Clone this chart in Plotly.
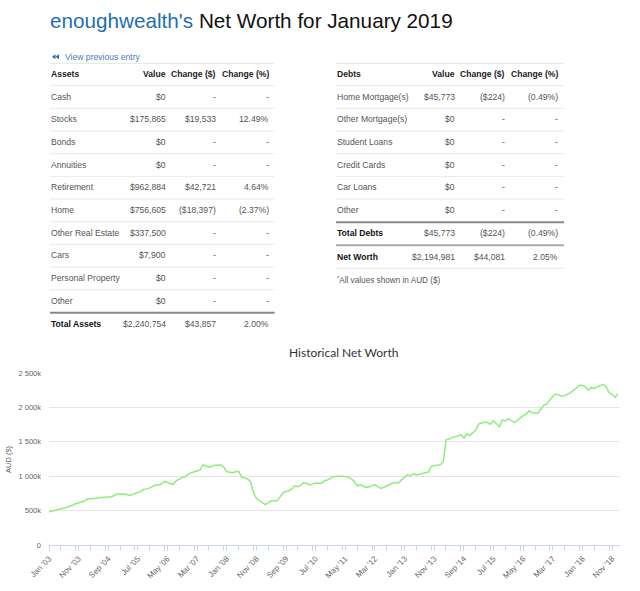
import pandas as pd
import plotly.graph_objects as go

# ---------------- data ----------------
title_user = "enoughwealth's"
title_rest = "Net Worth for January 2019"

asset_names = ["Cash", "Stocks", "Bonds", "Annuities", "Retirement", "Home",
               "Other Real Estate", "Cars", "Personal Property", "Other"]
asset_values = ["$0", "$175,865", "$0", "$0", "$962,884", "$756,605",
                "$337,500", "$7,900", "$0", "$0"]
asset_change_usd = ["-", "$19,533", "-", "-", "$42,721", "($18,397)", "-", "-", "-", "-"]
asset_change_pct = ["-", "12.49%", "-", "-", "4.64%", "(2.37%)", "-", "-", "-", "-"]
asset_total = ["Total Assets", "$2,240,754", "$43,857", "2.00%"]

debt_names = ["Home Mortgage(s)", "Other Mortgage(s)", "Student Loans",
              "Credit Cards", "Car Loans", "Other"]
debt_values = ["$45,773", "$0", "$0", "$0", "$0", "$0"]
debt_change_usd = ["($224)", "-", "-", "-", "-", "-"]
debt_change_pct = ["(0.49%)", "-", "-", "-", "-", "-"]
debt_total = ["Total Debts", "$45,773", "($224)", "(0.49%)"]
net_worth_row = ["Net Worth", "$2,194,981", "$44,081", "2.05%"]

table_headers = ["Value", "Change ($)", "Change (%)"]

# monthly net worth in thousands AUD, Jan 2003 .. Jan 2019
net_worth_k = [
    484, 490, 500, 515, 522, 533, 545, 568, 575, 600, 612, 625,          # 2003
    640, 668, 670, 672, 680, 688, 690, 692, 693, 702, 720, 740,          # 2004
    742, 741, 738, 725, 730, 748, 760, 780, 810, 812, 830, 850,          # 2005
    872, 872, 890, 926, 905, 890, 882, 935, 955, 984, 993, 1030,         # 2006
    1051, 1066, 1080, 1090, 1163, 1150, 1129, 1140, 1158, 1160, 1167, 1129,  # 2007
    1066, 1058, 1051, 1065, 1071, 990, 975, 959, 920, 760, 675, 640,     # 2008
    615, 586, 615, 640, 642, 644, 700, 760, 780, 789, 820, 858,          # 2009
    847, 870, 906, 895, 872, 885, 901, 898, 896, 935, 945, 970,          # 2010
    993, 1000, 1003, 1000, 995, 984, 960, 930, 858, 877, 858, 838,       # 2011
    845, 860, 877, 850, 824, 840, 858, 875, 901, 903, 906, 950,          # 2012
    990, 1022, 1003, 1036, 1017, 1030, 1042, 1050, 1061, 1143, 1155, 1160,  # 2013
    1167, 1211, 1526, 1545, 1560, 1575, 1585, 1603, 1555, 1613, 1595, 1630,  # 2014
    1672, 1759, 1770, 1783, 1780, 1754, 1807, 1760, 1720, 1817, 1802, 1836,  # 2015
    1800, 1778, 1810, 1846, 1880, 1900, 1952, 1923, 1918, 1914, 1980, 2035,  # 2016
    2050, 2110, 2160, 2195, 2175, 2166, 2170, 2190, 2214, 2250, 2290, 2321,  # 2017
    2320, 2300, 2253, 2287, 2277, 2295, 2311, 2335, 2301, 2214, 2190, 2147,  # 2018
    2195,                                                                 # 2019
]
months = pd.date_range("2003-01-01", periods=len(net_worth_k), freq="MS")

y_tick_vals = [0, 500000, 1000000, 1500000, 2000000, 2500000]
y_tick_text = ["0", "500k", "1 000k", "1 500k", "2 000k", "2 500k"]

# ---------------- layout helpers ----------------
W, H = 640, 591
FONT = "Liberation Sans, Arial, sans-serif"


def px(x):
    return x / W


def py(y):
    return 1 - y / H


annotations = []
shapes = []


def text(x, y, s, anchor="left", size=8.6, color="#555555", bold=False, family=FONT):
    if bold:
        s = "<b>" + s + "</b>"
    annotations.append(dict(
        x=px(x), y=py(y), xref="paper", yref="paper", text=s, showarrow=False,
        xanchor=anchor, yanchor="middle", borderpad=0,
        font=dict(family=family, size=size, color=color)))


def hline(x0, x1, y, color="#dddddd", width=1):
    shapes.append(dict(type="line", xref="paper", yref="paper",
                       x0=px(x0), x1=px(x1), y0=py(y), y1=py(y),
                       line=dict(color=color, width=width)))


# title
text(49, 20, '<span style="color:#1f6db5">' + title_user + '</span> ' + title_rest,
     size=20.7, color="#111111")

# view previous entry
for tip, base in ((52, 55.5), (55.5, 59)):
    shapes.append(dict(type="path", xref="paper", yref="paper",
                       path="M {} {} L {} {} L {} {} Z".format(
                           px(tip), py(56.7), px(base), py(54.2), px(base), py(59.2)),
                       fillcolor="#2a6db0", line=dict(width=0)))
text(64, 56.7, "View previous entry", color="#4a7db5")

row_h = 22.67

# ---- left (assets) table ----
LX0, LX1 = 50, 274.5
lcols = [166.7, 217, 270]
hline(LX0, LX1, 63.3, color="#e4e4e4")
text(LX0, 74, "Assets", color="#222222", bold=True)
for c, h in zip(lcols, table_headers):
    text(c, 74, h, anchor="right", color="#222222", bold=True)
for i, name in enumerate(asset_names):
    yc = 96.7 + row_h * i
    hline(LX0, LX1, 85.7 + row_h * i, color="#e8e8e8")
    text(LX0, yc, name)
    for c, v in zip(lcols, (asset_values[i], asset_change_usd[i], asset_change_pct[i])):
        text(c, yc, v, anchor="right")
hline(LX0, LX1, 312.7, color="#888888", width=2)
text(LX0, 324, asset_total[0], color="#111111", bold=True)
for c, v in zip(lcols, asset_total[1:]):
    text(c, 324, v, anchor="right")

# ---- right (debts) table ----
RX0, RX1 = 336, 564
rcols = [456, 505.7, 559]
hline(RX0, RX1, 63.3, color="#e4e4e4")
text(RX0, 74.3, "Debts", color="#222222", bold=True)
for c, h in zip(rcols, table_headers):
    text(c, 74.3, h, anchor="right", color="#222222", bold=True)
for i, name in enumerate(debt_names):
    yc = 96.7 + row_h * i
    hline(RX0, RX1, 85.7 + row_h * i, color="#e8e8e8")
    text(RX0, yc, name)
    for c, v in zip(rcols, (debt_values[i], debt_change_usd[i], debt_change_pct[i])):
        text(c, yc, v, anchor="right")
hline(RX0, RX1, 222.3, color="#888888", width=2)
text(RX0, 233, debt_total[0], color="#111111", bold=True)
for c, v in zip(rcols, debt_total[1:]):
    text(c, 233, v, anchor="right")
hline(RX0, RX1, 245.3, color="#aaaaaa", width=2)
text(RX0, 256.7, net_worth_row[0], color="#111111", bold=True)
for c, v in zip(rcols, net_worth_row[1:]):
    text(c, 256.7, v, anchor="right")
hline(RX0, RX1, 268.3, color="#e8e8e8")
text(RX0, 280, "<sup>*</sup>All values shown in AUD ($)", size=8.2)

# ---- chart ----
text(343.5, 352, "Historical Net Worth", anchor="center", size=12,
     color="#333333", family="Lato, Noto Sans, sans-serif")
annotations.append(dict(x=px(8), y=py(459), xref="paper", yref="paper",
                        text="AUD ($)", textangle=-90, showarrow=False,
                        xanchor="center", yanchor="middle",
                        font=dict(family=FONT, size=7.5, color="#666666")))

fig = go.Figure()
fig.add_trace(go.Scatter(
    x=months, y=[v * 1000 for v in net_worth_k], mode="lines",
    line=dict(color="#90ed7d", width=1.5), hoverinfo="skip", showlegend=False))

fig.update_layout(
    width=W, height=H,
    margin=dict(l=0, r=0, t=0, b=0, autoexpand=False),
    paper_bgcolor="white", plot_bgcolor="white",
    showlegend=False,
    annotations=annotations, shapes=shapes,
    xaxis=dict(
        domain=[px(49), px(620)],
        automargin=False,
        type="date",
        range=["2003-01-01", "2019-01-21"],
        tick0="2003-01-01", dtick="M10", tickformat="%b '%y",
        tickangle=-45,
        ticks="outside", ticklen=5, tickcolor="#ccd6eb",
        minor=dict(dtick="M5", ticks="outside", ticklen=5, tickcolor="#ccd6eb"),
        showline=True, linecolor="#ccd6eb", linewidth=1,
        showgrid=False, zeroline=False,
        tickfont=dict(family=FONT, size=8, color="#666666"),
    ),
    yaxis=dict(
        domain=[py(545), py(373)],
        automargin=False,
        range=[0, 2500000],
        tickvals=y_tick_vals, ticktext=y_tick_text,
        showgrid=True, gridcolor="#e6e6e6", gridwidth=1,
        zeroline=False, showline=False, ticks="",
        ticklabelstandoff=7,
        tickfont=dict(family=FONT, size=7.5, color="#666666"),
    ),
)

fig.write_html(
    "out.html",
    config={"displayModeBar": False},
    post_script="document.body.style.margin='0';document.body.style.overflow='hidden';",
)
